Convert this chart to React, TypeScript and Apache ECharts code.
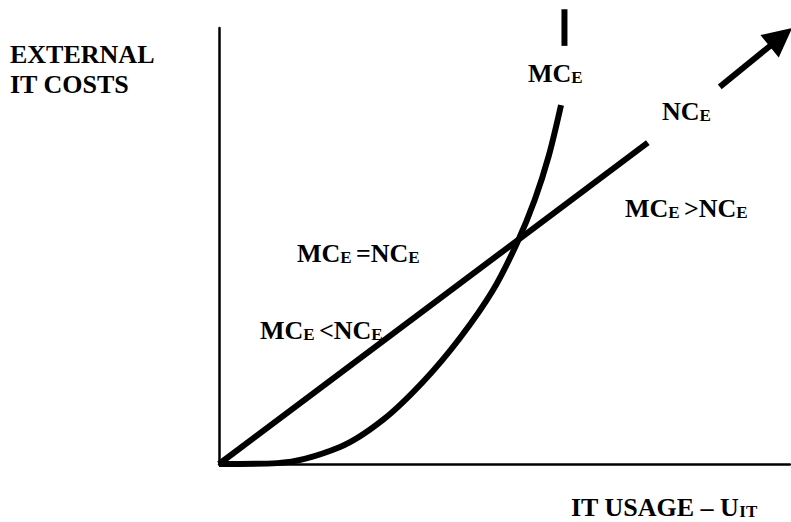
import { useEffect, useRef } from "react";
import * as echarts from "echarts";

// Marginal cost of external IT (convex curve), lower part and upper stub
const mcCurve: [number, number][] = [
  [0, 0], [10.2, 0.2], [21.2, 3.9], [28.7, 10.1], [35.7, 18.8], [42.2, 28.9],
  [48.0, 39.9], [52.2, 50.7], [55.3, 60.6], [57.8, 70.9], [59.9, 82.3],
];
const mcTop: [number, number][] = [[60.5, 95.9], [60.5, 104.3]];
// Average (net) cost of external IT (straight line) and its arrow piece
const ncLine: [number, number][] = [[0, 0], [75.1, 73.7]];
const ncArrow: [number, number][] = [[87.7, 86.5], [98.4, 97.9]];

const axisMin = 0;
const axisMax = 100;

const FONT = '"Liberation Serif", "Times New Roman", serif';
const RICH = {
  m: { fontSize: 26, fontWeight: "bold", fontFamily: FONT, lineHeight: 28, verticalAlign: "bottom", fill: "#000" },
  s: { fontSize: 17, fontWeight: "bold", fontFamily: FONT, lineHeight: 14, verticalAlign: "bottom", fill: "#000" },
};

const labels: { x: number; base: number; text: string }[] = [
  { x: 10, base: 62, text: "{m|EXTERNAL}" },
  { x: 10, base: 92, text: "{m|IT COSTS}" },
  { x: 528, base: 81, text: "{m|MC}{s|E}" },
  { x: 662, base: 119, text: "{m|NC}{s|E}" },
  { x: 625, base: 216, text: "{m|MC}{s|E }{m|>NC}{s|E}" },
  { x: 297, base: 261, text: "{m|MC}{s|E }{m|=NC}{s|E}" },
  { x: 260, base: 338, text: "{m|MC}{s|E }{m|<NC}{s|E}" },
  { x: 571, base: 515, text: "{m|IT USAGE \u2013 U}{s|IT}" },
];

export default function App() {
  const ref = useRef<HTMLDivElement>(null);
  useEffect(() => {
    if (!ref.current) return;
    const chart = echarts.init(ref.current, null, { renderer: "svg" });
    const lineStyle = { color: "#000", width: 6 };
    chart.setOption({
      animation: false,
      backgroundColor: "#fff",
      grid: { left: 219, right: 1, top: 28, bottom: 58 },
      xAxis: {
        type: "value", min: axisMin, max: axisMax,
        axisLine: { show: true, lineStyle: { color: "#000", width: 2.5 } },
        axisTick: { show: false }, axisLabel: { show: false }, splitLine: { show: false },
      },
      yAxis: {
        type: "value", min: axisMin, max: axisMax,
        axisLine: { show: true, lineStyle: { color: "#000", width: 2.5 } },
        axisTick: { show: false }, axisLabel: { show: false }, splitLine: { show: false },
      },
      series: [
        {
          type: "line", data: mcCurve, smooth: 0.3, showSymbol: false, symbol: "none",
          clip: false, lineStyle, silent: true,
        },
        {
          type: "line", data: mcTop, showSymbol: false, symbol: "none",
          clip: false, lineStyle, silent: true,
        },
        {
          type: "line", data: ncLine, showSymbol: false, symbol: "none",
          clip: false, lineStyle, silent: true,
          markLine: {
            silent: true,
            symbol: ["none", "triangle"],
            symbolSize: 29,
            label: { show: false },
            lineStyle: { color: "#000", width: 6, type: "solid" },
            itemStyle: { color: "#000" },
            emphasis: { disabled: true },
            data: [[{ coord: ncArrow[0] }, { coord: ncArrow[1] }]],
          },
        },
      ],
      graphic: labels.map((l) => ({
        type: "text",
        x: l.x,
        y: l.base - 22.6,
        silent: true,
        z: 10,
        style: { text: l.text, rich: RICH, align: "left", verticalAlign: "top", fill: "#000" },
      })),
    });
    return () => chart.dispose();
  }, []);
  return (
    <div
      ref={ref}
      style={{ position: "fixed", left: 0, top: 0, width: 791, height: 522, background: "#fff" }}
    />
  );
}
